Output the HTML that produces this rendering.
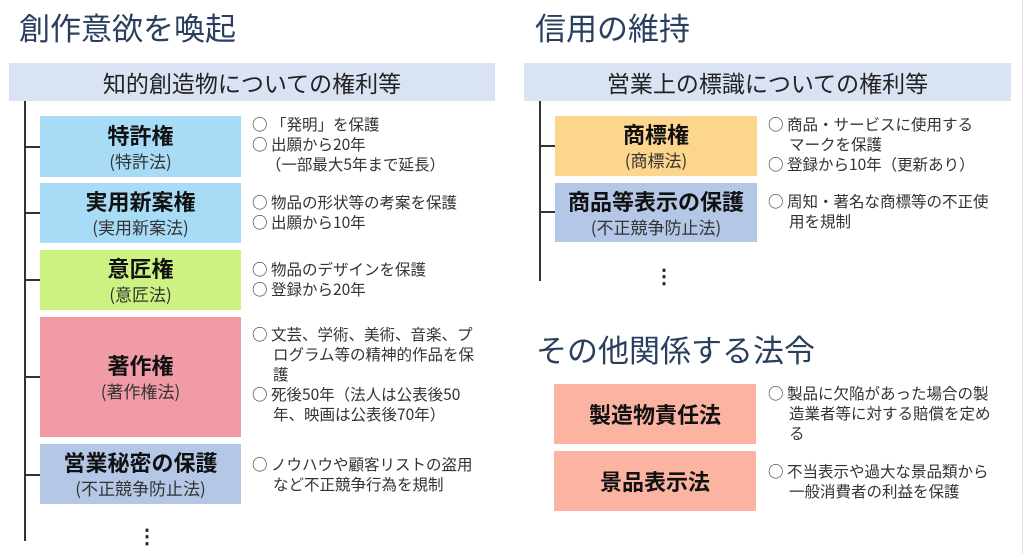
<!DOCTYPE html>
<html><head><meta charset="utf-8"><style>
*{margin:0;padding:0;box-sizing:border-box}
body{width:1024px;height:554px;background:#fff;position:relative;overflow:hidden;font-family:"Noto Sans CJK JP",sans-serif;color:#222}
.a{position:absolute}
.t{font-size:31px;color:#2a3f5f;white-space:nowrap;line-height:40px}
.hd{background:#dae3f3;font-size:23px;text-align:center;line-height:38px;height:38px;color:#222}
.ln{background:#333}
.bx{display:flex;flex-direction:column;justify-content:center;align-items:center;text-align:center;color:#111}
.bx b{font-size:22px;line-height:28px}
.bx span{font-size:17px;line-height:24px;color:#333}
.tx{font-size:15.5px;line-height:20px;color:#333}
.tx div{padding-left:21px;text-indent:-21px}
.dots{font-size:20px;font-weight:bold;line-height:7px;width:6px;text-align:center}
</style></head><body>
<div class="a" style="left:1022px;top:0;width:1px;height:554px;background:#ddd"></div>
<div class="a t" style="left:19px;top:7px">創作意欲を喚起</div>
<div class="a hd" style="left:9px;top:63px;width:486px">知的創造物についての権利等</div>
<div class="a ln" style="left:24px;top:101px;width:2px;height:440px"></div>
<div class="a ln" style="left:24px;top:146px;width:16px;height:2px"></div>
<div class="a ln" style="left:24px;top:212px;width:16px;height:2px"></div>
<div class="a ln" style="left:24px;top:279px;width:16px;height:2px"></div>
<div class="a ln" style="left:24px;top:376px;width:16px;height:2px"></div>
<div class="a ln" style="left:24px;top:474px;width:16px;height:2px"></div>
<div class="a bx" style="left:40px;top:116px;width:201px;height:61px;background:#a8dcf6"><b>特許権</b><span>(特許法)</span></div>
<div class="a bx" style="left:40px;top:183px;width:201px;height:60px;background:#a8dcf6"><b>実用新案権</b><span>(実用新案法)</span></div>
<div class="a bx" style="left:40px;top:250px;width:201px;height:60px;background:#ccf281"><b>意匠権</b><span>(意匠法)</span></div>
<div class="a bx" style="left:40px;top:317px;width:201px;height:120px;background:#f09ba6"><b>著作権</b><span>(著作権法)</span></div>
<div class="a bx" style="left:40px;top:444px;width:201px;height:60px;background:#b4c7e7"><b>営業秘密の保護</b><span>(不正競争防止法)</span></div>
<div class="a dots" style="left:137px;top:531px">⋮</div>
<div class="a tx" style="left:252px;top:114px;width:232px"><div>○&nbsp;「発明」を保護</div><div>○&nbsp;出願から20年</div><div>&nbsp;&nbsp;&nbsp;&nbsp;（一部最大5年まで延長）</div></div>
<div class="a tx" style="left:252px;top:192px;width:232px"><div>○&nbsp;物品の形状等の考案を保護</div><div>○&nbsp;出願から10年</div></div>
<div class="a tx" style="left:252px;top:259px;width:232px"><div>○&nbsp;物品のデザインを保護</div><div>○&nbsp;登録から20年</div></div>
<div class="a tx" style="left:252px;top:324px;width:234px"><div>○&nbsp;文芸、学術、美術、音楽、プログラム等の精神的作品を保護</div><div>○&nbsp;死後50年（法人は公表後50年、映画は公表後70年）</div></div>
<div class="a tx" style="left:252px;top:454px;width:234px"><div>○&nbsp;ノウハウや顧客リストの盗用など不正競争行為を規制</div></div>

<div class="a t" style="left:535px;top:7px">信用の維持</div>
<div class="a hd" style="left:524px;top:63px;width:487px">営業上の標識についての権利等</div>
<div class="a ln" style="left:539px;top:101px;width:2px;height:180px"></div>
<div class="a ln" style="left:539px;top:145px;width:16px;height:2px"></div>
<div class="a ln" style="left:539px;top:211px;width:16px;height:2px"></div>
<div class="a bx" style="left:555px;top:116px;width:202px;height:60px;background:#fdd68e"><b>商標権</b><span>(商標法)</span></div>
<div class="a bx" style="left:555px;top:183px;width:202px;height:59px;background:#b4c7e7"><b>商品等表示の保護</b><span>(不正競争防止法)</span></div>
<div class="a dots" style="left:654px;top:271px">⋮</div>
<div class="a tx" style="left:768px;top:114px;width:226px"><div>○&nbsp;商品・サービスに使用する<br>マークを保護</div><div>○&nbsp;登録から10年（更新あり）</div></div>
<div class="a tx" style="left:768px;top:191px;width:226px"><div>○&nbsp;周知・著名な商標等の不正使用を規制</div></div>

<div class="a t" style="left:536px;top:329px">その他関係する法令</div>
<div class="a bx" style="left:554px;top:384px;width:202px;height:60px;background:#fbb4a2"><b>製造物責任法</b></div>
<div class="a bx" style="left:554px;top:451px;width:202px;height:60px;background:#fbb4a2"><b>景品表示法</b></div>
<div class="a tx" style="left:768px;top:383px;width:226px"><div>○&nbsp;製品に欠陥があった場合の製造業者等に対する賠償を定める</div></div>
<div class="a tx" style="left:768px;top:461px;width:226px"><div>○&nbsp;不当表示や過大な景品類から一般消費者の利益を保護</div></div>
</body></html>
